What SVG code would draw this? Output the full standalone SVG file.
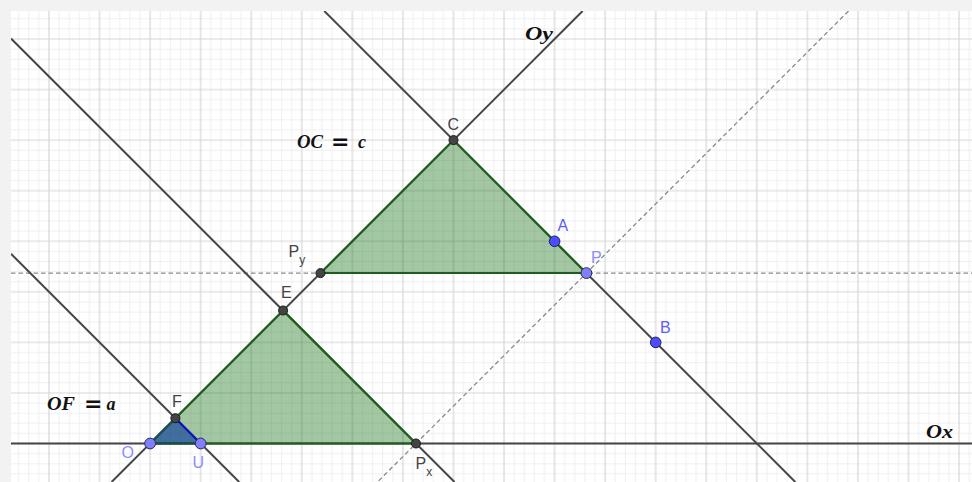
<svg xmlns="http://www.w3.org/2000/svg" width="972" height="482" viewBox="0 0 972 482">
<style>
.ln{stroke:#464646;stroke-width:2;fill:none}
.dash{stroke:#8a8a8a;stroke-width:1.3;stroke-dasharray:4.5 3;fill:none}
.poly{fill:#006400;fill-opacity:0.36;stroke:#1c5f1c;stroke-width:2;stroke-linejoin:round}
.dp{fill:#444;stroke:#1a1a1a;stroke-width:1}
.fp{fill:#4d4dff;stroke:#1a1a66;stroke-width:1}
.lp{fill:#8080ff;stroke:#2a2a55;stroke-width:1}
.lab{font-family:"Liberation Sans",Arial,sans-serif;font-size:16px;fill:#444}
.labb{font-family:"Liberation Sans",Arial,sans-serif;font-size:16px;fill:#5c5cff}
.labl{font-family:"Liberation Sans",Arial,sans-serif;font-size:16px;fill:#8c8cff}
.sub{font-size:12px}
.m{font-family:"Liberation Serif","Times New Roman",serif;font-style:italic;font-weight:bold;font-size:18px;fill:#111}
.eq{font-family:"DejaVu Sans",sans-serif;font-weight:bold;font-size:22px;fill:#111}
</style>
<defs>
<pattern id="grid" patternUnits="userSpaceOnUse" x="150.1" y="443.5" width="50.56" height="50.56">
<rect width="50.56" height="50.56" fill="#ffffff"/>
<path d="M10.112 0V50.56M20.224 0V50.56M30.336 0V50.56M40.448 0V50.56M0 10.112H50.56M0 20.224H50.56M0 30.336H50.56M0 40.448H50.56" stroke="#f0f0f0" stroke-width="1"/>
<path d="M0 0V50.56M50.56 0V50.56M0 0H50.56M0 50.56H50.56" stroke="#d6d6d6" stroke-width="1.2"/>
</pattern>
<clipPath id="view"><rect x="11" y="11" width="961" height="471"/></clipPath>
</defs>
<rect width="972" height="482" fill="#f2f2f2"/>
<rect x="11" y="11" width="961" height="471" fill="url(#grid)"/>
<g id="connectors" clip-path="url(#view)">
<line class="dash" x1="11" y1="273.1" x2="972" y2="273.1"/>
<line class="dash" x1="848.5" y1="11" x2="377.5" y2="482"/>
<line class="ln" x1="11" y1="443.5" x2="972" y2="443.5" stroke-width="2.4"/>
<line class="ln" x1="582.6" y1="11" x2="111.6" y2="482"/>
<line class="ln" x1="11" y1="253.8" x2="239.2" y2="482"/>
<line class="ln" x1="11" y1="38.5" x2="454.5" y2="482"/>
<line class="ln" x1="324.3" y1="11" x2="795.3" y2="482"/>
</g>
<g id="triangle-CPyP"><polygon class="poly" points="453.5,140.1 320.5,273.1 586.4,273.1"/></g>
<g id="triangle-OEPx"><polygon class="poly" points="150.1,443.5 283.1,310.5 416,443.5"/></g>
<g id="triangle-OFU">
<polygon points="150.1,443.5 175.4,418.2 200.7,443.5" fill="#003399" fill-opacity="0.6" stroke="none"/>
<line x1="150.1" y1="443.5" x2="175.4" y2="418.2" stroke="#1e4f55" stroke-width="2"/>
<line x1="175.4" y1="418.2" x2="200.7" y2="443.5" stroke="#1010cc" stroke-width="2"/>
<line x1="150.1" y1="443.5" x2="200.7" y2="443.5" stroke="#1e4f45" stroke-width="2"/>
</g>
<g id="labels-math">
<text class="m" x="297" y="148" textLength="26" lengthAdjust="spacingAndGlyphs">OC</text>
<text class="eq" x="331" y="149">=</text>
<text class="m" x="358" y="148" font-size="19">c</text>
<text class="m" x="47" y="410" textLength="28" lengthAdjust="spacingAndGlyphs">OF</text>
<text class="eq" x="84" y="411">=</text>
<text class="m" x="106.5" y="410" font-size="19">a</text>
<text class="m" x="926" y="438" textLength="27" lengthAdjust="spacingAndGlyphs">Ox</text>
<text class="m" x="525" y="40" font-weight="normal" textLength="28" lengthAdjust="spacingAndGlyphs">Oy</text>
</g>
<g id="point-C"><circle class="dp" cx="453.5" cy="140.1" r="4.5"/><text class="lab" x="447.5" y="130">C</text></g>
<g id="point-Py"><circle class="dp" cx="320.5" cy="273.1" r="4.5"/><text class="lab" x="288.5" y="257">P<tspan class="sub" dy="7">y</tspan></text></g>
<g id="point-E"><circle class="dp" cx="283.1" cy="310.5" r="4.5"/><text class="lab" x="281" y="298">E</text></g>
<g id="point-F"><circle class="dp" cx="175.4" cy="418.2" r="4.5"/><text class="lab" x="172" y="407">F</text></g>
<g id="point-Px"><circle class="dp" cx="416" cy="443.5" r="4.5"/><text class="lab" x="415.5" y="469">P<tspan class="sub" dy="7">x</tspan></text></g>
<g id="point-A"><circle class="fp" cx="554.6" cy="241.3" r="5.3"/><text class="labb" x="557.5" y="231">A</text></g>
<g id="point-B"><circle class="fp" cx="655.7" cy="342.4" r="5.3"/><text class="labb" x="660" y="333">B</text></g>
<g id="point-P"><circle class="lp" cx="586.4" cy="273.1" r="5.4"/><text class="labl" x="591" y="263">P</text></g>
<g id="point-O"><circle class="lp" cx="150.1" cy="443.5" r="5.4"/><text class="labl" x="121.5" y="458">O</text></g>
<g id="point-U"><circle class="lp" cx="200.7" cy="443.5" r="5.4"/><text class="labl" x="192.5" y="468">U</text></g>
</svg>
